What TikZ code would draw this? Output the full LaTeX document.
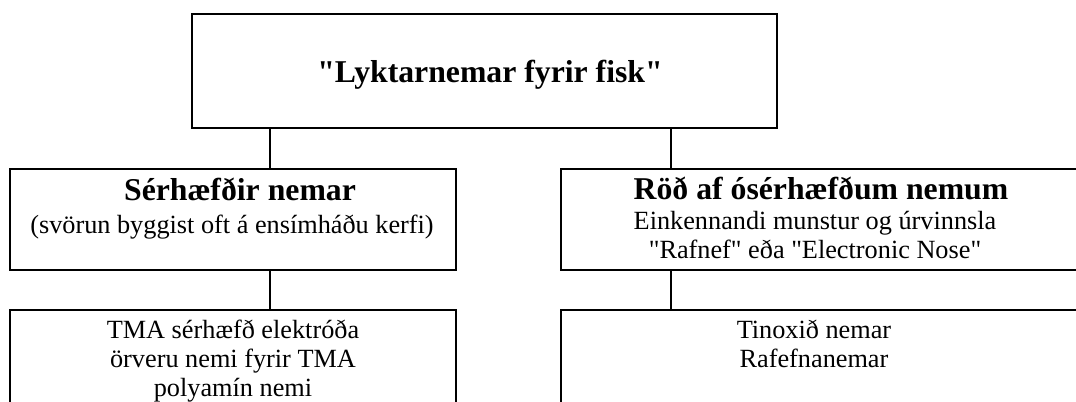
\documentclass[tikz,border=0pt]{standalone}
\usepackage{fontspec}
\setmainfont{Liberation Serif}
\usetikzlibrary{positioning}
\newcommand{\dq}{\textquotedbl}
\tikzset{
  box/.style={draw, line width=1.5pt, inner sep=0pt},
  heading/.style={font=\fontsize{23.8}{27}\selectfont\bfseries, align=center, inner sep=0pt},
  body/.style={font=\fontsize{19.7}{21.6}\selectfont, align=center, inner sep=0pt},
  link/.style={line width=1.5pt}
}

\begin{document}
\begin{tikzpicture}[x=0.75pt, y=-0.75pt]
  \useasboundingbox (0,0) rectangle (1076,401);
  \clip (0,0) rectangle (1076,401);
  % top
  \node[box, minimum width=438.75pt, minimum height=85.5pt] (top) at (484.5,71) {};
  \node[heading, anchor=base] (toptext) at (490,82) {\dq Lyktarnemar fyrir fisk\dq};
  % second row
  \node[box, minimum width=334.5pt, minimum height=75.75pt] (spec) at (233,219.5) {};
  \node[heading, anchor=base] (spechead) at (240,200) {Sérhæfðir nemar};
  \node[body, anchor=base] (spectext) at (232,233) {(svörun byggist oft á ensímháðu kerfi)};
  \node[box, minimum width=389.25pt, minimum height=75.75pt] (array) at (820.5,219.5) {};
  \node[heading, anchor=base] (arrayhead) at (821,199) {Röð af ósérhæfðum nemum};
  \node[body, anchor=base] (arraytext) at (815,258) {Einkennandi munstur og úrvinnsla\\\dq Rafnef\dq{} eða \dq Electronic Nose\dq};
  % third row
  \node[box, minimum width=334.5pt, minimum height=82.5pt] (tma) at (233,365) {};
  \node[body, anchor=base] (tmatext) at (233,396) {TMA sérhæfð elektróða\\örveru nemi fyrir TMA\\polyamín nemi};
  \node[box, minimum width=389.25pt, minimum height=82.5pt] (tin) at (820.5,365) {};
  \node[body, anchor=base] (tintext) at (814,367) {Tinoxið nemar\\Rafefnanemar};
  % connectors
  \coordinate (lx) at (270,0);
  \coordinate (rx) at (671,0);
  \draw[link] (top.south -| lx) -- (spec.north -| lx);
  \draw[link] (spec.south -| lx) -- (tma.north -| lx);
  \draw[link] (top.south -| rx) -- (array.north -| rx);
  \draw[link] (array.south -| rx) -- (tin.north -| rx);
\end{tikzpicture}
\end{document}
